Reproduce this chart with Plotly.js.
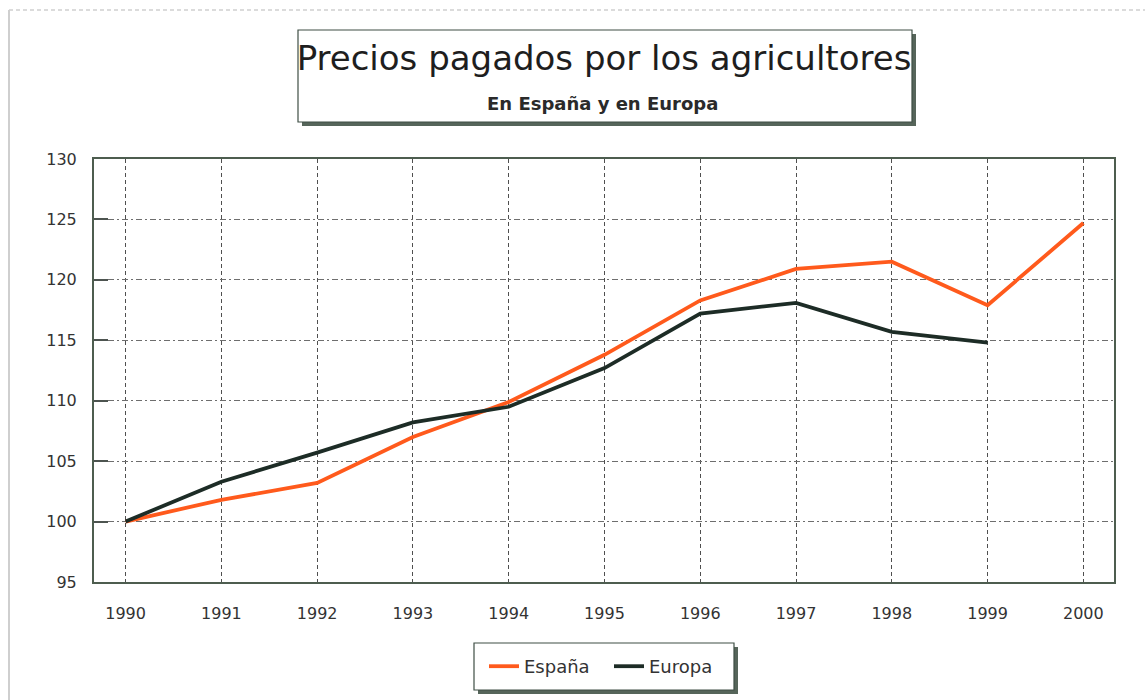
<!DOCTYPE html>
<html>
<head>
<meta charset="utf-8">
<script src="https://cdn.plot.ly/plotly-3.0.1.min.js"></script>
<style>
  html, body { margin: 0; padding: 0; background: #ffffff; }
  #chart { width: 1145px; height: 700px; }
</style>
</head>
<body>
<div id="chart"></div>
<script>
// ---- data ----
const years = [1990, 1991, 1992, 1993, 1994, 1995, 1996, 1997, 1998, 1999, 2000];
const yearLabels = ['1990', '1991', '1992', '1993', '1994', '1995', '1996', '1997', '1998', '1999', '2000'];
const espana = [100, 101.8, 103.2, 107.0, 109.9, 113.8, 118.3, 120.9, 121.5, 117.9, 124.7];
const europa = [100, 103.3, 105.7, 108.2, 109.5, 112.7, 117.2, 118.1, 115.7, 114.8, null];
const seriesNames = ['España', 'Europa'];
const yTicks = [95, 100, 105, 110, 115, 120, 125, 130];
const titleText = 'Precios pagados por los agricultores';
const subtitleText = 'En España y en Europa';

// ---- layout geometry (pixels) ----
const W = 1145, H = 700;
const M = { l: 94, r: 31, t: 159, b: 118 };
const PW = W - M.l - M.r, PH = H - M.t - M.b;
const px = x => (x - M.l) / PW;
const py = y => (H - M.b - y) / PH;

const FONT = 'DejaVu Sans, Verdana, sans-serif';
const frameColor = '#3f4f45';
const shadowColor = '#56655a';

function boxWithShadow(x0, y0, x1, y1, off) {
  return [
    { type: 'rect', xref: 'paper', yref: 'paper', layer: 'below',
      x0: px(x0 + off), x1: px(x1 + off), y0: py(y0 + off), y1: py(y1 + off),
      line: { width: 0 }, fillcolor: shadowColor },
    { type: 'rect', xref: 'paper', yref: 'paper', layer: 'below',
      x0: px(x0), x1: px(x1), y0: py(y0), y1: py(y1),
      line: { width: 1.2, color: frameColor }, fillcolor: '#ffffff' }
  ];
}

const shapes = [
  // outer page frame
  { type: 'line', xref: 'paper', yref: 'paper', x0: px(9), x1: px(9), y0: py(10), y1: py(700),
    line: { color: '#cfcfcf', width: 2 } },
  { type: 'line', xref: 'paper', yref: 'paper', x0: px(9), x1: px(1145), y0: py(10), y1: py(10),
    line: { color: '#cfcfcf', width: 1.5, dash: '4px,3px' } },
  ...boxWithShadow(298, 30, 912, 122, 4),
  ...boxWithShadow(474, 643, 734, 690, 4)
];

const traces = [
  { x: years, y: espana, name: seriesNames[0], type: 'scatter', mode: 'lines',
    line: { color: '#ff5a1c', width: 3.8 }, connectgaps: false },
  { x: years, y: europa, name: seriesNames[1], type: 'scatter', mode: 'lines',
    line: { color: '#1d2c26', width: 3.8 }, connectgaps: false }
];

const layout = {
  width: W, height: H,
  margin: M,
  paper_bgcolor: '#ffffff',
  plot_bgcolor: '#ffffff',
  font: { family: FONT, color: '#2b2b2b' },
  showlegend: true,
  title: {
    text: titleText,
    font: { family: FONT, size: 34, color: '#1e1e1e' },
    xref: 'paper', x: 0.5, xanchor: 'center',
    yref: 'container', y: 1 - 58 / H, yanchor: 'middle'
  },
  annotations: [
    { text: '<b>' + subtitleText + '</b>', xref: 'paper', yref: 'paper',
      x: px(602), y: py(103), xanchor: 'center', yanchor: 'middle', showarrow: false,
      font: { family: FONT, size: 18, color: '#2a2a2a' } }
  ],
  xaxis: {
    type: 'linear',
    range: [1989.67, 2000.32],
    tickvals: years, ticktext: yearLabels,
    showgrid: true, gridcolor: '#4f4f4f', gridwidth: 1, griddash: '4px,3px',
    zeroline: false,
    showline: true, mirror: true, linecolor: '#4d5d4f', linewidth: 2,
    ticks: '', ticklabelstandoff: 16,
    tickfont: { family: FONT, size: 16, color: '#333333' },
    fixedrange: true
  },
  yaxis: {
    range: [95, 130],
    tickvals: yTicks,
    showgrid: true, gridcolor: '#6e6e6e', gridwidth: 1, griddash: '6px,3px,2px,3px',
    zeroline: false,
    showline: true, mirror: true, linecolor: '#4d5d4f', linewidth: 2,
    ticks: 'inside', ticklen: 14, tickwidth: 2, tickcolor: '#4d5450',
    ticklabelstandoff: 12,
    tickfont: { family: FONT, size: 16, color: '#333333' },
    fixedrange: true
  },
  legend: {
    orientation: 'h',
    xref: 'paper', yref: 'paper',
    x: px(484), xanchor: 'left',
    y: py(666.5), yanchor: 'middle',
    bgcolor: 'rgba(0,0,0,0)', borderwidth: 0,
    font: { family: FONT, size: 18, color: '#333333' },
    itemwidth: 30, entrywidth: 80, traceorder: 'normal'
  },
  shapes: shapes
};

Plotly.newPlot('chart', traces, layout, { displayModeBar: false, staticPlot: true });
</script>
</body>
</html>
